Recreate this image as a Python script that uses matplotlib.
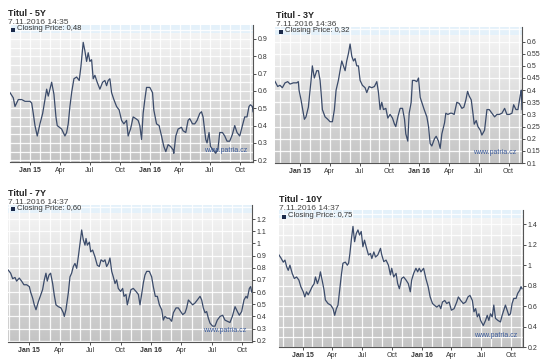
import numpy as np
import matplotlib
matplotlib.use("Agg")
import matplotlib.pyplot as plt
from matplotlib.colors import LinearSegmentedColormap

plt.rcParams['font.family'] = ['Liberation Sans', 'DejaVu Sans']

# x axis is months since Jan 2015 (0 = Jan 15, 12 = Jan 16)
month_ticks = [0, 3, 6, 9, 12, 15, 18, 21]
month_labels = ['Jan 15', 'Apr', 'Jul', 'Oct', 'Jan 16', 'Apr', 'Jul', 'Oct']

# --- Titul - 5Y ---
t_5y = [-2.0, -1.67, -1.5, -1.17, -0.83, -0.5, 0.0, 0.17, 0.33, 0.5, 0.73, 1.0, 1.27, 1.5, 1.67,
        1.83, 2.17, 2.4, 2.6, 2.73, 3.17, 3.5, 3.67, 3.83, 4.0, 4.17, 4.4, 4.67, 4.93, 5.1, 5.33,
        5.5, 5.67, 5.83, 6.0, 6.17, 6.33, 6.5, 6.73, 7.0, 7.27, 7.5, 7.67, 7.83, 8.0, 8.17, 8.4,
        8.67, 8.93, 9.17, 9.4, 9.67, 9.83, 10.07, 10.33, 10.6, 10.83, 11.0, 11.17, 11.33, 11.5,
        11.67, 12.0, 12.27, 12.4, 12.67, 12.93, 13.17, 13.4, 13.6, 13.83, 14.07, 14.33, 14.4,
        14.6, 14.83, 15.17, 15.33, 15.6, 15.83, 16.0, 16.27, 16.5, 16.73, 17.0, 17.17, 17.33,
        17.6, 17.73, 17.93, 18.07, 18.33, 18.6, 18.83, 19.0, 19.27, 19.5, 19.73, 20.0, 20.27,
        20.5, 20.73, 21.0, 21.27, 21.5, 21.73, 21.93, 22.07, 22.27, 22.33]
v_5y = [0.59, 0.56, 0.51, 0.55, 0.55, 0.54, 0.54, 0.53, 0.47, 0.40, 0.34, 0.41, 0.47, 0.55, 0.61,
        0.57, 0.65, 0.58, 0.45, 0.40, 0.38, 0.34, 0.36, 0.41, 0.51, 0.59, 0.67, 0.68, 0.66, 0.74,
        0.88, 0.83, 0.77, 0.82, 0.77, 0.78, 0.67, 0.69, 0.65, 0.61, 0.65, 0.66, 0.63, 0.66, 0.67,
        0.59, 0.55, 0.51, 0.49, 0.43, 0.41, 0.43, 0.34, 0.38, 0.45, 0.44, 0.43, 0.40, 0.32, 0.47,
        0.55, 0.62, 0.62, 0.59, 0.49, 0.41, 0.40, 0.34, 0.28, 0.25, 0.29, 0.28, 0.26, 0.24, 0.34,
        0.38, 0.39, 0.37, 0.36, 0.43, 0.44, 0.41, 0.41, 0.43, 0.47, 0.48, 0.45, 0.32, 0.30, 0.36,
        0.28, 0.26, 0.24, 0.27, 0.36, 0.36, 0.34, 0.31, 0.31, 0.35, 0.40, 0.36, 0.34, 0.40, 0.45,
        0.45, 0.51, 0.52, 0.51, 0.48]

# --- Titul - 3Y ---
t_3y = [-2.52, -2.25, -2.02, -1.78, -1.51, -1.24, -1.01, -0.67, -0.34, -0.17, -0.10, 0.10, 0.27,
        0.44, 0.60, 0.84, 1.01, 1.11, 1.24, 1.44, 1.68, 1.85, 2.02, 2.12, 2.25, 2.52, 2.79, 3.02,
        3.26, 3.46, 3.63, 3.86, 4.03, 4.20, 4.37, 4.54, 4.70, 4.87, 5.04, 5.21, 5.38, 5.54, 5.71,
        5.88, 6.05, 6.28, 6.55, 6.72, 6.96, 7.22, 7.49, 7.73, 7.90, 8.06, 8.23, 8.40, 8.64, 8.84,
        9.07, 9.31, 9.51, 9.64, 9.85, 10.08, 10.32, 10.52, 10.65, 10.85, 10.99, 11.19, 11.32,
        11.53, 11.76, 11.93, 12.10, 12.26, 12.50, 12.77, 12.94, 13.10, 13.27, 13.54, 13.71, 13.94,
        14.11, 14.28, 14.55, 14.68, 14.89, 15.12, 15.29, 15.52, 15.79, 16.03, 16.30, 16.50, 16.70,
        16.87, 17.04, 17.24, 17.41, 17.54, 17.74, 17.91, 18.15, 18.31, 18.58, 18.82, 19.05, 19.32,
        19.59, 19.83, 20.06, 20.33, 20.60, 20.83, 21.07, 21.34, 21.51, 21.74, 21.94, 22.18, 22.28,
        22.35]
v_3y = [0.436, 0.415, 0.42, 0.41, 0.43, 0.435, 0.425, 0.43, 0.43, 0.435, 0.40, 0.36, 0.32, 0.28,
        0.29, 0.33, 0.40, 0.44, 0.50, 0.45, 0.48, 0.48, 0.44, 0.39, 0.32, 0.29, 0.28, 0.27, 0.27,
        0.32, 0.40, 0.44, 0.48, 0.52, 0.50, 0.48, 0.52, 0.55, 0.59, 0.54, 0.52, 0.53, 0.50, 0.50,
        0.44, 0.42, 0.41, 0.39, 0.415, 0.41, 0.415, 0.435, 0.39, 0.32, 0.35, 0.32, 0.325, 0.285,
        0.30, 0.285, 0.26, 0.25, 0.29, 0.325, 0.325, 0.28, 0.22, 0.19, 0.305, 0.35, 0.44, 0.44,
        0.435, 0.45, 0.37, 0.35, 0.32, 0.29, 0.25, 0.18, 0.17, 0.20, 0.21, 0.19, 0.16, 0.22, 0.265,
        0.305, 0.30, 0.305, 0.305, 0.30, 0.35, 0.345, 0.325, 0.33, 0.36, 0.395, 0.375, 0.36, 0.305,
        0.26, 0.275, 0.25, 0.235, 0.215, 0.235, 0.32, 0.32, 0.305, 0.29, 0.30, 0.30, 0.305, 0.325,
        0.30, 0.30, 0.305, 0.34, 0.32, 0.32, 0.38, 0.40, 0.32]

# --- Titul - 7Y ---
t_7y = [-2.07, -1.84, -1.64, -1.41, -1.25, -0.99, -0.76, -0.53, -0.26, 0.0, 0.13, 0.33, 0.49,
        0.66, 0.89, 1.12, 1.31, 1.48, 1.64, 1.77, 1.94, 2.10, 2.30, 2.46, 2.63, 2.86, 3.12, 3.35,
        3.45, 3.61, 3.84, 4.01, 4.17, 4.34, 4.50, 4.67, 4.83, 5.00, 5.16, 5.32, 5.49, 5.59, 5.72,
        5.92, 6.05, 6.24, 6.47, 6.70, 6.90, 7.07, 7.30, 7.46, 7.62, 7.79, 7.95, 8.12, 8.28, 8.45,
        8.61, 8.77, 9.00, 9.20, 9.33, 9.53, 9.66, 9.86, 10.02, 10.25, 10.52, 10.75, 10.91, 11.07,
        11.24, 11.40, 11.57, 11.83, 12.06, 12.22, 12.42, 12.62, 12.82, 13.05, 13.21, 13.37, 13.60,
        13.80, 14.03, 14.20, 14.46, 14.69, 14.92, 15.12, 15.35, 15.51, 15.68, 15.84, 16.10, 16.33,
        16.56, 16.83, 16.99, 17.15, 17.32, 17.48, 17.65, 17.81, 18.07, 18.30, 18.53, 18.80, 19.06,
        19.28, 19.52, 19.78, 20.01, 20.28, 20.51, 20.70, 20.93, 21.16, 21.36, 21.49, 21.69, 21.82,
        21.92]
v_7y = [0.78, 0.755, 0.71, 0.72, 0.69, 0.715, 0.69, 0.66, 0.66, 0.645, 0.60, 0.55, 0.495, 0.455,
        0.52, 0.575, 0.62, 0.70, 0.755, 0.69, 0.74, 0.755, 0.67, 0.575, 0.495, 0.48, 0.47, 0.43,
        0.40, 0.455, 0.59, 0.725, 0.755, 0.81, 0.835, 0.795, 0.89, 1.0, 1.11, 1.03, 0.985, 1.04,
        0.985, 1.01, 0.93, 0.945, 0.89, 0.82, 0.81, 0.865, 0.85, 0.865, 0.81, 0.835, 0.88, 0.77,
        0.725, 0.67, 0.70, 0.63, 0.605, 0.63, 0.565, 0.58, 0.495, 0.565, 0.62, 0.63, 0.605, 0.58,
        0.495, 0.58, 0.675, 0.74, 0.77, 0.77, 0.725, 0.645, 0.565, 0.565, 0.495, 0.455, 0.37, 0.40,
        0.385, 0.385, 0.36, 0.43, 0.47, 0.47, 0.44, 0.415, 0.43, 0.47, 0.535, 0.52, 0.495, 0.51,
        0.535, 0.565, 0.535, 0.47, 0.43, 0.44, 0.385, 0.345, 0.32, 0.32, 0.37, 0.40, 0.41, 0.37,
        0.36, 0.35, 0.40, 0.48, 0.44, 0.41, 0.44, 0.535, 0.565, 0.55, 0.63, 0.645, 0.60]

# --- Titul - 10Y ---
t_10y = [-2.37, -2.17, -1.94, -1.77, -1.60, -1.44, -1.27, -1.04, -0.83, -0.60, -0.37, -0.17, 0.07,
         0.23, 0.40, 0.57, 0.73, 0.97, 1.17, 1.30, 1.50, 1.67, 1.80, 1.97, 2.17, 2.30, 2.57, 2.84,
         3.07, 3.24, 3.41, 3.57, 3.74, 3.91, 4.07, 4.31, 4.51, 4.64, 4.77, 4.91, 5.08, 5.24, 5.41,
         5.58, 5.74, 5.91, 6.08, 6.24, 6.41, 6.64, 6.84, 6.98, 7.18, 7.35, 7.58, 7.85, 7.98, 8.18,
         8.41, 8.65, 8.85, 8.98, 9.18, 9.42, 9.58, 9.75, 9.98, 10.18, 10.42, 10.65, 10.85, 10.99,
         11.19, 11.42, 11.59, 11.75, 11.92, 12.19, 12.42, 12.65, 12.85, 13.09, 13.26, 13.52, 13.76,
         13.92, 14.09, 14.32, 14.52, 14.76, 14.99, 15.26, 15.53, 15.69, 15.93, 16.19, 16.43, 16.66,
         16.86, 17.10, 17.26, 17.43, 17.60, 17.76, 17.93, 18.20, 18.43, 18.60, 18.76, 18.93, 19.10,
         19.26, 19.43, 19.67, 19.93, 20.10, 20.27, 20.43, 20.60, 20.77, 20.94, 21.10, 21.27, 21.50,
         21.67, 21.87, 22.00, 22.10]
v_10y = [1.10, 1.07, 1.03, 1.05, 0.985, 0.95, 1.0, 0.92, 0.87, 0.885, 0.855, 0.79, 0.74, 0.69,
         0.74, 0.71, 0.74, 0.79, 0.82, 0.885, 0.82, 0.87, 0.935, 0.855, 0.755, 0.66, 0.625, 0.61,
         0.575, 0.51, 0.575, 0.61, 0.755, 0.905, 1.02, 1.03, 1.0, 1.02, 1.115, 1.245, 1.38, 1.23,
         1.31, 1.345, 1.295, 1.33, 1.18, 1.245, 1.18, 1.10, 1.115, 1.065, 1.13, 1.08, 1.10, 1.165,
         1.10, 1.035, 1.05, 1.0, 0.905, 0.97, 0.885, 0.92, 0.82, 0.77, 0.87, 0.885, 0.855, 0.82,
         0.74, 0.855, 0.92, 0.97, 0.935, 0.97, 0.935, 0.97, 0.87, 0.79, 0.69, 0.625, 0.61, 0.59,
         0.61, 0.575, 0.64, 0.655, 0.625, 0.64, 0.56, 0.575, 0.64, 0.69, 0.655, 0.625, 0.64, 0.69,
         0.705, 0.655, 0.545, 0.575, 0.495, 0.525, 0.46, 0.41, 0.46, 0.51, 0.46, 0.525, 0.495,
         0.61, 0.48, 0.46, 0.445, 0.51, 0.56, 0.61, 0.56, 0.51, 0.525, 0.625, 0.675, 0.675, 0.725,
         0.755, 0.79, 0.77]

titles = ['Titul - 5Y', 'Titul - 3Y', 'Titul - 7Y', 'Titul - 10Y']
stamps = ['7.11.2016 14:35', '7.11.2016 14:36', '7.11.2016 14:37', '7.11.2016 14:37']
closing = ['0,48', '0,32', '0,60', '0,75']

W, H = 550, 361
fig = plt.figure(figsize=(W / 100, H / 100), dpi=100)
fig.patch.set_facecolor('white')

def px(x, y):
    return x / W, 1 - y / H

# panel boxes in pixels: left, top, right, bottom
panels = [
    dict(t=t_5y, v=v_5y, box=(10, 25, 253, 162), xlim=(-2.0, 22.33), ylim=(0.19, 0.98),
         yticks=np.arange(0.2, 0.91, 0.1), ygrid=0.05, head=(8, 13)),
    dict(t=t_3y, v=v_3y, box=(275, 27, 522, 163), xlim=(-2.52, 22.35), ylim=(0.1, 0.66),
         yticks=np.arange(0.1, 0.61, 0.05), ygrid=0.05, head=(276, 15)),
    dict(t=t_7y, v=v_7y, box=(8, 205, 252, 342), xlim=(-2.1, 21.95), ylim=(0.19, 1.315),
         yticks=np.arange(0.2, 1.21, 0.1), ygrid=0.1, head=(8, 193)),
    dict(t=t_10y, v=v_10y, box=(279, 210, 523, 347), xlim=(-2.37, 22.2), ylim=(0.2, 1.54),
         yticks=np.arange(0.2, 1.41, 0.2), ygrid=0.1, head=(279, 200)),
]

grad = LinearSegmentedColormap.from_list('bg', ['#c4c4c4', '#f4f4f4'])
band_px = 8

for i, p in enumerate(panels):
    l, t, r, b = p['box']
    ax = fig.add_axes([l / W, 1 - b / H, (r - l) / W, (b - t) / H])
    band = band_px / (b - t)
    # gradient background, light blue band on top for the legend
    ax.imshow(np.linspace(0, 1, 100).reshape(-1, 1), extent=[0, 1, 0, 1 - band],
              transform=ax.transAxes, aspect='auto', cmap=grad, origin='lower', zorder=0)
    ax.add_patch(plt.Rectangle((0, 1 - band), 1, band, transform=ax.transAxes,
                               facecolor='#e4f1fa', edgecolor='none', zorder=0.5))
    ax.set_xlim(*p['xlim'])
    ax.set_ylim(*p['ylim'])

    # white grid, one line per month
    for m in range(-2, 23):
        ax.axvline(m, color='white', lw=0.9, alpha=0.9, zorder=1)
    gy = np.arange(p['ylim'][0] - p['ylim'][0] % p['ygrid'], p['ylim'][1], p['ygrid'])
    for y in gy:
        ax.axhline(y, color='white', lw=0.9, alpha=0.9, zorder=1)

    ax.plot(p['t'], p['v'], color='#3b4b6a', lw=0.9, zorder=3)

    ax.yaxis.tick_right()
    ax.set_yticks(p['yticks'])
    ax.set_yticklabels(['%g' % round(y, 2) for y in p['yticks']])
    ax.set_xticks(month_ticks)
    ax.set_xticklabels(month_labels)
    for lab in ax.get_xticklabels():
        if lab.get_text().startswith('Jan'):
            lab.set_fontweight('bold')
    ax.tick_params(axis='both', labelsize=5, colors='#333333', length=2, width=0.6, pad=1.5)
    for s in ['top', 'left']:
        ax.spines[s].set_visible(False)
    for s in ['right', 'bottom']:
        ax.spines[s].set_color('#555555')
        ax.spines[s].set_linewidth(0.8)

    ax.text(0.975, 0.055, 'www.patria.cz', transform=ax.transAxes, ha='right', va='bottom',
            fontsize=5, color='#3a5a9a', zorder=4)

    hx, hy = p['head']
    fig.text(*px(hx, hy), titles[i], fontsize=6.5, fontweight='bold', color='#222222', va='center')
    fig.text(*px(hx, hy + 9), stamps[i], fontsize=6, color='#444444', va='center')
    fig.text(*px(hx + 9, hy + 16), 'Closing Price: ' + closing[i], fontsize=5.5,
             color='#333333', va='center')
    fig.patches.append(plt.Rectangle(px(hx + 3, hy + 18.5), 4 / W, 4 / H, transform=fig.transFigure,
                                     facecolor='#1b2a4a', edgecolor='none', figure=fig))

fig.savefig('out.png', dpi=100, facecolor='white')
